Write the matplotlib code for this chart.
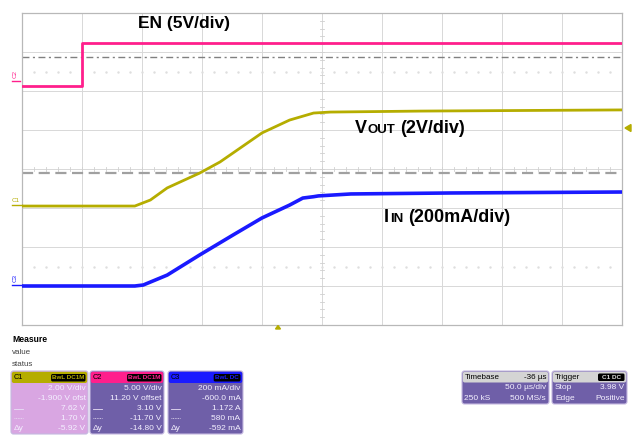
import matplotlib
matplotlib.use("Agg")
import matplotlib.pyplot as plt
from matplotlib.patches import FancyBboxPatch, Polygon
import numpy as np

plt.rcParams['font.family'] = ['Liberation Sans', 'DejaVu Sans']

# ---------------- data ----------------
# time in microseconds (50 us/div, 10 divisions)
t_en = [0, 50, 50, 500]
en_volts = [0.0, 0.0, 5.5, 5.5]              # EN, 5 V/div

t_vout = [0, 94, 107, 121, 148, 165, 200, 223, 243, 257, 332, 500]
vout_volts = [0.0, 0.0, 0.31, 0.93, 1.69, 2.26, 3.75, 4.41, 4.77, 4.82, 4.87, 4.93]   # 2 V/div

t_iin = [0, 94, 101, 121, 148, 176, 200, 223, 234, 243, 247, 274, 357, 500]
iin_ma = [0, 0, 5, 56, 159, 262, 349, 415, 451, 458, 462, 472, 477, 482]            # 200 mA/div

# channel scales / offsets (div positions)
EN_SCALE, EN_ZERO = 5.0, 2.13
VOUT_SCALE, VOUT_OFS = 2.0, 1.9
IIN_SCALE, IIN_OFS = 200.0, 600.0

c1_rows = ["2.00 V/div", "-1.900 V ofst", "7.62 V", "1.70 V", "-5.92 V"]
c2_rows = ["5.00 V/div", "11.20 V offset", "3.10 V", "-11.70 V", "-14.80 V"]
c3_rows = ["200 mA/div", "-600.0 mA", "1.172 A", "580 mA", "-592 mA"]

PINK = '#ff1f8c'
YEL = '#b5ad00'
BLUE = '#1a1aff'
W, H = 638, 438

fig = plt.figure(figsize=(W / 100, H / 100), dpi=100)
fig.patch.set_facecolor('white')

# ---------------- scope screen ----------------
ax = fig.add_axes([22 / W, (H - 325) / H, 600 / W, 312 / H])
ax.set_xlim(0, 500)
ax.set_ylim(-4, 4)
ax.set_xticks([])
ax.set_yticks([])
for s in ax.spines.values():
    s.set_color('#b8b8b8')
    s.set_linewidth(0.9)

for xg in range(50, 500, 50):
    ax.axvline(xg, color='#d8d8d8', lw=0.7, zorder=1)
for yg in range(-3, 4):
    ax.axhline(yg, color='#d8d8d8', lw=0.7, zorder=1)

# center axis minor ticks
for yt in np.arange(-4, 4.01, 0.2):
    ax.plot([248, 252], [yt, yt], color='#d0d0d0', lw=0.6, zorder=1)
for xt in np.arange(0, 500.1, 10):
    ax.plot([xt, xt], [-0.06, 0.06], color='#d0d0d0', lw=0.6, zorder=1)

# dotted quarter lines
for yd in (2.5, -2.5):
    xs = np.arange(10, 500, 10)
    ax.plot(xs, np.full_like(xs, yd, dtype=float), ls='none', marker='s',
            ms=0.7, color='#dedede', zorder=1)

# reference lines
ax.axhline(2.87, color='#808080', lw=1.0, dashes=(5, 2.5, 1.5, 2.5), zorder=2)
ax.axhline(-0.10, color='#a0a0a0', lw=1.6, dashes=(5, 2.5), zorder=2)

# traces
ax.plot(t_en, [v / EN_SCALE + EN_ZERO for v in en_volts], color=PINK, lw=2.0, zorder=4)
ax.plot(t_vout, [(v - VOUT_OFS) / VOUT_SCALE for v in vout_volts], color=YEL, lw=2.0, zorder=4)
ax.plot(t_iin, [(i - IIN_OFS) / IIN_SCALE for i in iin_ma], color=BLUE, lw=2.6, zorder=4)

# ---------------- overlay in pixel coordinates ----------------
ov = fig.add_axes([0, 0, 1, 1], facecolor='none')
ov.set_xlim(0, W)
ov.set_ylim(H, 0)
ov.axis('off')

# trace labels
ov.text(138, 28, "EN (5V/div)", fontsize=12.5, fontweight='bold', va='baseline', ha='left')
ov.text(355, 133, "V", fontsize=13, fontweight='bold', va='baseline', ha='left')
ov.text(368, 133, "OUT", fontsize=9.5, fontweight='bold', va='baseline', ha='left')
ov.text(400, 133, "(2V/div)", fontsize=13, fontweight='bold', va='baseline', ha='left')
ov.text(384, 222, "I", fontsize=13, fontweight='bold', va='baseline', ha='left')
ov.text(390.5, 222, "IN", fontsize=9.5, fontweight='bold', va='baseline', ha='left')
ov.text(408.5, 222, "(200mA/div)", fontsize=13, fontweight='bold', va='baseline', ha='left')

# channel markers
ov.text(15, 74, "C2", color=PINK, fontsize=4.5, rotation=90, ha='center', va='center')
ov.plot([12, 20], [80.5, 80.5], color=PINK, lw=1.0)
ov.text(16, 200, "C1", color=YEL, fontsize=4.5, ha='center', va='center')
ov.plot([12, 22], [204.5, 204.5], color=YEL, lw=1.0)
ov.text(15, 278, "C3", color=BLUE, fontsize=4.5, rotation=90, ha='center', va='center')
ov.plot([12, 22], [284.5, 284.5], color=BLUE, lw=1.0)
ov.add_patch(Polygon([[625, 128], [631, 124.5], [631, 131.5]], closed=True, color=YEL))
ov.add_patch(Polygon([[278, 325.5], [275.5, 329], [280.5, 329]], closed=True, color=YEL))

# measure panel
ov.text(12, 340, "Measure", fontsize=6.2, fontweight='bold', va='center', ha='left')
ov.text(12, 352, "value", fontsize=5.8, color='#444444', va='center', ha='left')
ov.text(12, 364, "status", fontsize=5.8, color='#444444', va='center', ha='left')

BODY = '#6f5fa8'
ROW_Y = [389, 399, 408.5, 418, 428]


def rbox(x0, y0, x1, y1, fc, ec='none', r=2.5, z=3, lw=0.8):
    p = FancyBboxPatch((x0, y0), x1 - x0, y1 - y0,
                       boxstyle=f"round,pad=0,rounding_size={r}",
                       fc=fc, ec=ec, lw=lw, zorder=z, mutation_aspect=1)
    ov.add_patch(p)


def chan_box(x0, x1, head_col, body_col, name, tag, rows):
    rbox(x0, 371, x1, 434, body_col, ec='#c4b8e0', z=3)
    rbox(x0 + 0.8, 371.8, x1 - 0.8, 383, head_col, z=4, r=2)
    ov.text(x0 + 3, 377.5, name, fontsize=5.3, color='black', va='center', ha='left', zorder=6)
    tw = 3.8 * len(tag) + 4
    rbox(x1 - 2.5 - tw, 374, x1 - 2.5, 381.5, 'black', z=5, r=1.5)
    ov.text(x1 - 2.5 - tw / 2, 377.8, tag, fontsize=4.5, color=head_col,
            va='center', ha='center', zorder=6, fontweight='bold')
    for yy, s in zip(ROW_Y, rows):
        ov.text(x1 - 2.5, yy, s, fontsize=6, color='#f4f0ff', va='center', ha='right', zorder=6)
    ov.plot([x0 + 3, x0 + 12], [ROW_Y[2], ROW_Y[2]], color='#e8e0f4', lw=0.6, zorder=6)
    ov.plot([x0 + 3, x0 + 12], [ROW_Y[3], ROW_Y[3]], color='#e8e0f4', lw=0.6, ls=(0, (1, 1)), zorder=6)
    ov.text(x0 + 3, ROW_Y[4], "\u0394y", fontsize=6, color='#f4f0ff', va='center', ha='left', zorder=6)


chan_box(11, 88, YEL, '#d9a6e2', "C1", "BwL DC1M", c1_rows)
chan_box(90, 164, PINK, BODY, "C2", "BwL DC1M", c2_rows)
chan_box(168, 243, BLUE, BODY, "C3", "BwL DC", c3_rows)

# timebase box
rbox(462, 371, 549, 404, BODY, ec='#c4b8e0', z=3)
rbox(462.8, 371.8, 548.2, 382.5, '#d4d4d4', z=4, r=2)
ov.text(465, 377.2, "Timebase", fontsize=5.8, color='black', va='center', ha='left', zorder=6)
ov.text(546, 377.2, "-36 \u00b5s", fontsize=5.8, color='black', va='center', ha='right', zorder=6)
ov.text(546, 387.5, "50.0 \u00b5s/div", fontsize=6, color='#f4f0ff', va='center', ha='right', zorder=6)
ov.text(464, 398, "250 kS", fontsize=6, color='#f4f0ff', va='center', ha='left', zorder=6)
ov.text(546, 398, "500 MS/s", fontsize=6, color='#f4f0ff', va='center', ha='right', zorder=6)

# trigger box
rbox(552, 371, 627, 404, BODY, ec='#c4b8e0', z=3)
rbox(552.8, 371.8, 626.2, 382.5, '#d4d4d4', z=4, r=2)
ov.text(555, 377.2, "Trigger", fontsize=5.8, color='black', va='center', ha='left', zorder=6)
rbox(598, 373.5, 624.5, 381, 'black', z=5, r=1.5)
ov.text(611.2, 377.4, "C1 DC", fontsize=4.6, color='#e0e0e0', va='center', ha='center',
        zorder=6, fontweight='bold')
ov.text(555, 387.5, "Stop", fontsize=6, color='#f4f0ff', va='center', ha='left', zorder=6)
ov.text(624.5, 387.5, "3.98 V", fontsize=6, color='#f4f0ff', va='center', ha='right', zorder=6)
ov.text(555, 398, "Edge", fontsize=6, color='#f4f0ff', va='center', ha='left', zorder=6)
ov.text(624.5, 398, "Positive", fontsize=6, color='#f4f0ff', va='center', ha='right', zorder=6)

fig.savefig("out.png", dpi=100)
